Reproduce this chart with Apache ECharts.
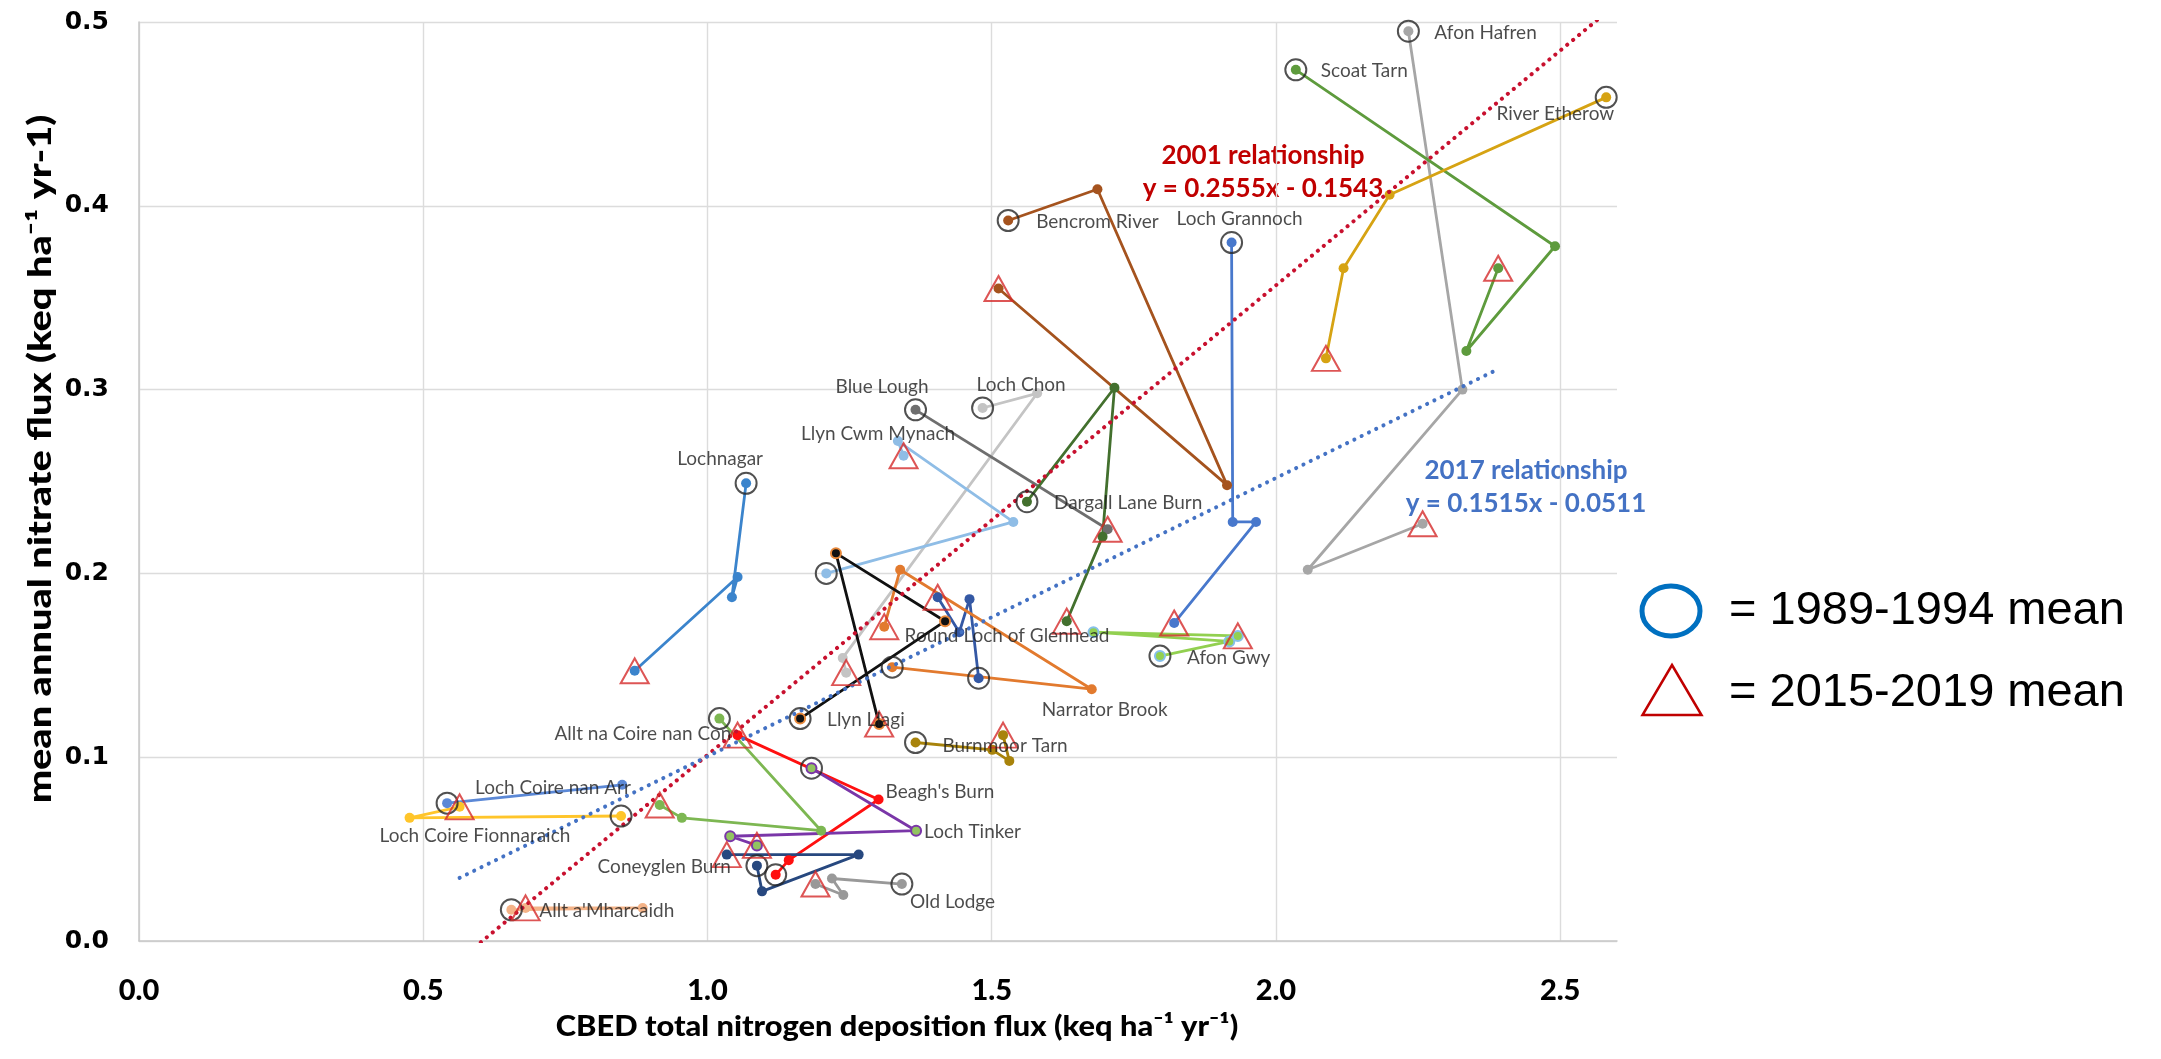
<!DOCTYPE html>
<html>
<head>
<meta charset="utf-8">
<script src="https://cdn.jsdelivr.net/npm/echarts@6/dist/echarts.min.js"></script>
<style>
  html, body { margin: 0; padding: 0; background: #ffffff; }
  #chart { width: 2161px; height: 1059px; }
</style>
</head>
<body>
<div id="chart"></div>
<script>
// Site trajectories: [CBED total N deposition, mean annual nitrate flux] (keq ha-1 yr-1).
// First point = 1989-1994 mean, last point = 2015-2019 mean (where sampled).
const afonHafren          = [[2.233, 0.495], [2.328, 0.300], [2.056, 0.202], [2.258, 0.227]];
const scoatTarn           = [[2.035, 0.474], [2.491, 0.378], [2.335, 0.321], [2.391, 0.366]];
const riverEtherow        = [[2.581, 0.459], [2.200, 0.406], [2.119, 0.366], [2.088, 0.317]];
const lochGrannoch        = [[1.922, 0.380], [1.924, 0.228], [1.965, 0.228], [1.821, 0.173]];
const bencromRiver        = [[1.529, 0.392], [1.686, 0.409], [1.914, 0.248], [1.512, 0.355]];
const lochChon            = [[1.484, 0.290], [1.580, 0.298], [1.238, 0.154], [1.244, 0.146]];
const blueLough           = [[1.366, 0.289], [1.704, 0.224]];
const dargallLaneBurn     = [[1.562, 0.239], [1.716, 0.301], [1.695, 0.220], [1.632, 0.174]];
const llynCwmMynach       = [[1.209, 0.200], [1.538, 0.228], [1.335, 0.272], [1.345, 0.264]];
const lochnagar           = [[1.068, 0.249], [1.043, 0.187], [1.053, 0.198], [0.872, 0.147]];
const roundLochGlenhead   = [[1.477, 0.143], [1.461, 0.186], [1.443, 0.168], [1.405, 0.187]];
const afonGwy             = [[1.796, 0.155], [1.918, 0.163], [1.679, 0.168], [1.933, 0.166]];
const narratorBrook       = [[1.325, 0.149], [1.676, 0.137], [1.339, 0.202], [1.311, 0.171]];
const llynLlagi           = [[1.163, 0.121], [1.418, 0.174], [1.226, 0.211], [1.302, 0.118]];
const burnmoorTarn        = [[1.366, 0.108], [1.501, 0.104], [1.531, 0.098], [1.520, 0.112]];
const alltNaCoireNanCon   = [[1.021, 0.121], [1.200, 0.060], [0.955, 0.067], [0.916, 0.074]];
const beaghsBurn          = [[1.120, 0.036], [1.143, 0.044], [1.301, 0.077], [1.053, 0.112]];
const lochTinker          = [[1.183, 0.094], [1.367, 0.060], [1.040, 0.057], [1.087, 0.052]];
const coneyglenBurn       = [[1.087, 0.041], [1.096, 0.027], [1.266, 0.047], [1.034, 0.047]];
const oldLodge            = [[1.342, 0.031], [1.219, 0.034], [1.239, 0.025], [1.190, 0.031]];
const lochCoireNanArr     = [[0.542, 0.075], [0.850, 0.085]];
const lochCoireFionnaraich= [[0.848, 0.068], [0.476, 0.067], [0.564, 0.073]];
const alltAMharcaidh      = [[0.655, 0.017], [0.886, 0.018], [0.680, 0.018]];

// Regression lines: [slope, intercept]
const rel2001 = [0.2555, -0.1543];
const rel2017 = [0.1515, -0.0511];

// Axis ticks
const xTickStep = 0.5, xMax = 2.6;
const yTickStep = 0.1, yMax = 0.5;

// Site list with drawing style
const sites = [
  { name: 'Afon Hafren',             data: afonHafren,          color: '#A6A6A6', recent: true },
  { name: 'Scoat Tarn',              data: scoatTarn,           color: '#5E9B3D', recent: true },
  { name: 'River Etherow',           data: riverEtherow,        color: '#D6A313', recent: true },
  { name: 'Loch Grannoch',           data: lochGrannoch,        color: '#4878CC', recent: true },
  { name: 'Bencrom River',           data: bencromRiver,        color: '#A5531E', recent: true },
  { name: 'Loch Chon',               data: lochChon,            color: '#C4C4C4', recent: true },
  { name: 'Blue Lough',              data: blueLough,           color: '#6E6E6E', recent: true },
  { name: 'Dargall Lane Burn',       data: dargallLaneBurn,     color: '#43702E', recent: true },
  { name: 'Llyn Cwm Mynach',         data: llynCwmMynach,       color: '#8FBDE6', recent: true },
  { name: 'Lochnagar',               data: lochnagar,           color: '#3B84CC', recent: true },
  { name: 'Round Loch of Glenhead',  data: roundLochGlenhead,   color: '#3458A4', recent: true },
  { name: 'Afon Gwy',                data: afonGwy,             color: '#92D050', border: '#86C0EA', recent: true },
  { name: 'Narrator Brook',          data: narratorBrook,       color: '#E27A2E', recent: true },
  { name: 'Llyn Llagi',              data: llynLlagi,           color: '#111111', border: '#E8883A', recent: true },
  { name: 'Burnmoor Tarn',           data: burnmoorTarn,        color: '#A8830B', recent: true },
  { name: 'Allt na Coire nan Con',   data: alltNaCoireNanCon,   color: '#7DB752', recent: true },
  { name: "Beagh's Burn",            data: beaghsBurn,          color: '#FF1010', recent: true },
  { name: 'Loch Tinker',             data: lochTinker,          color: '#7A36A8', fill: '#92C460', recent: true },
  { name: 'Coneyglen Burn',          data: coneyglenBurn,       color: '#27487F', recent: true },
  { name: 'Old Lodge',               data: oldLodge,            color: '#999999', recent: true },
  { name: 'Loch Coire nan Arr',      data: lochCoireNanArr,     color: '#5B88D6', recent: false },
  { name: 'Loch Coire Fionnaraich',  data: lochCoireFionnaraich,color: '#FFC52A', recent: true },
  { name: "Allt a'Mharcaidh",        data: alltAMharcaidh,      color: '#F4B388', recent: true }
];

// Where each site name sits: point index, pixel offset, text alignment
const labelPlacement = {
  'Afon Hafren':            { at: 0, dx: 26,  dy: 2,   align: 'left' },
  'Scoat Tarn':             { at: 0, dx: 25,  dy: 1,   align: 'left' },
  'River Etherow':          { at: 0, dx: 8,   dy: 17,  align: 'right' },
  'Loch Grannoch':          { at: 0, dx: 8,   dy: -24, align: 'center' },
  'Bencrom River':          { at: 0, dx: 28,  dy: 1,   align: 'left' },
  'Loch Chon':              { at: 0, dx: -6,  dy: -23, align: 'left' },
  'Blue Lough':             { at: 0, dx: 13,  dy: -23, align: 'right' },
  'Dargall Lane Burn':      { at: 0, dx: 27,  dy: 1,   align: 'left' },
  'Llyn Cwm Mynach':        { at: 2, dx: -97, dy: -7,  align: 'left' },
  'Lochnagar':              { at: 0, dx: -26, dy: -24, align: 'center' },
  'Round Loch of Glenhead': { at: 0, dx: -74, dy: -42, align: 'left' },
  'Afon Gwy':               { at: 0, dx: 27,  dy: 2,   align: 'left' },
  'Narrator Brook':         { at: 1, dx: 13,  dy: 21,  align: 'center' },
  'Llyn Llagi':             { at: 0, dx: 27,  dy: 1,   align: 'left' },
  'Burnmoor Tarn':          { at: 0, dx: 27,  dy: 3,   align: 'left' },
  'Allt na Coire nan Con':  { at: 0, dx: 12,  dy: 15,  align: 'right' },
  "Beagh's Burn":           { at: 2, dx: 7,   dy: -8,  align: 'left' },
  'Loch Tinker':            { at: 1, dx: 8,   dy: 1,   align: 'left' },
  'Coneyglen Burn':         { at: 0, dx: -26, dy: 1,   align: 'right' },
  'Old Lodge':              { at: 0, dx: 8,   dy: 18,  align: 'left' },
  'Loch Coire nan Arr':     { at: 0, dx: 28,  dy: -15, align: 'left' },
  'Loch Coire Fionnaraich': { at: 1, dx: -30, dy: 18,  align: 'left' },
  "Allt a'Mharcaidh":       { at: 0, dx: 28,  dy: 1,   align: 'left' }
};

const chart = echarts.init(document.getElementById('chart'), null, { renderer: 'canvas' });

const GRID = { left: 139, top: 22, right: 544, bottom: 118 };
const labelFont = 'Lato, "Open Sans", sans-serif';
const titleFont = 'Lato, "Open Sans", sans-serif';

// one line per site
const siteSeries = sites.map(s => ({
  name: s.name,
  type: 'line',
  data: s.data,
  symbol: 'circle',
  symbolSize: 10,
  z: 3,
  lineStyle: { color: s.color, width: 2.8 },
  itemStyle: {
    color: s.fill || s.color,
    borderColor: s.border || s.color,
    borderWidth: s.border || s.fill ? 2 : 0
  },
  emphasis: { disabled: true },
  silent: true
}));

// ring around each 1989-1994 mean
const startSeries = {
  name: '1989-1994 mean',
  type: 'scatter',
  data: sites.map(s => s.data[0]),
  symbol: 'circle',
  symbolSize: 21,
  z: 5,
  itemStyle: { color: 'rgba(0,0,0,0)', borderColor: '#262626', borderWidth: 2 },
  silent: true
};

// triangle on each 2015-2019 mean
const endSeries = {
  name: '2015-2019 mean',
  type: 'scatter',
  data: sites.filter(s => s.recent).map(s => s.data[s.data.length - 1]),
  symbol: 'triangle',
  symbolSize: [28, 25],
  z: 5,
  itemStyle: { color: 'rgba(0,0,0,0)', borderColor: '#D42A2A', borderWidth: 2 },
  silent: true
};

// site names
const nameSeries = {
  name: 'site names',
  type: 'scatter',
  symbolSize: 1,
  z: 6,
  itemStyle: { color: 'rgba(0,0,0,0)' },
  silent: true,
  data: sites.map(s => {
    const p = labelPlacement[s.name];
    return {
      value: s.data[p.at],
      label: {
        show: true,
        position: 'inside',
        formatter: s.name,
        align: p.align,
        verticalAlign: 'middle',
        offset: [p.dx, p.dy],
        color: '#1E1E1E',
        fontSize: 19,
        fontFamily: labelFont
      }
    };
  })
};

// regression lines over the x-range of the points they were fitted to
const allX = sites.flatMap(s => s.data.map(p => p[0]));
const recentX = sites.filter(s => s.recent).map(s => s.data[s.data.length - 1][0]);
function fitLine(rel, xs) {
  const x0 = Math.min(...xs), x1 = Math.max(...xs);
  return [[x0, rel[0] * x0 + rel[1]], [x1, rel[0] * x1 + rel[1]]];
}
const trend2001 = {
  name: '2001 relationship',
  type: 'line',
  data: fitLine(rel2001, allX),
  symbol: 'none',
  z: 4,
  clip: true,
  lineStyle: { color: '#C8102E', width: 4, type: [0.1, 7.6], cap: 'round' },
  silent: true
};
const trend2017 = {
  name: '2017 relationship',
  type: 'line',
  data: fitLine(rel2017, recentX),
  symbol: 'none',
  z: 4,
  clip: true,
  lineStyle: { color: '#4472C4', width: 4, type: [0.1, 8], cap: 'round' },
  silent: true
};

const option = {
  animation: false,
  backgroundColor: '#ffffff',
  grid: Object.assign({ containLabel: false, outerBoundsMode: 'none' }, GRID),
  xAxis: {
    type: 'value',
    min: 0, max: xMax, interval: xTickStep,
    axisLine: { show: true, lineStyle: { color: '#C8C8C8', width: 1.5 } },
    axisTick: { show: false },
    splitLine: { show: true, showMaxLine: false, lineStyle: { color: '#DCDCDC', width: 1.4 } },
    axisLabel: {
      showMaxLabel: false,
      margin: 35,
      formatter: v => v.toFixed(1),
      color: '#000000',
      fontSize: 29,
      fontWeight: 900,
      fontFamily: titleFont
    }
  },
  yAxis: {
    type: 'value',
    min: 0, max: yMax, interval: yTickStep,
    axisLine: { show: true, lineStyle: { color: '#C8C8C8', width: 1.5 } },
    axisTick: { show: false },
    splitLine: { show: true, lineStyle: { color: '#DCDCDC', width: 1.4 } },
    axisLabel: {
      margin: 30,
      formatter: v => v.toFixed(1),
      color: '#000000',
      fontSize: 25,
      fontWeight: 'bold',
      fontFamily: '"DejaVu Sans", Verdana, sans-serif'
    }
  },
  series: [...siteSeries, trend2001, trend2017, startSeries, endSeries, nameSeries],
  graphic: [
    // axis titles
    {
      type: 'text', x: 897, y: 1027, scaleX: 1.1,
      style: {
        text: 'CBED total nitrogen deposition flux (keq ha\u207B\u00B9 yr\u207B\u00B9)',
        textAlign: 'center', textVerticalAlign: 'middle',
        font: '900 28px ' + titleFont, fill: '#000000'
      }
    },
    {
      type: 'text', x: 41, y: 459, rotation: Math.PI / 2, scaleX: 1.24,
      style: {
        text: 'mean annual nitrate flux (keq ha\u207B\u00B9 yr-1)',
        textAlign: 'center', textVerticalAlign: 'middle',
        font: '900 32px ' + titleFont, fill: '#000000'
      }
    },
    // regression annotations
    {
      type: 'text', x: 1263, y: 139,
      style: {
        text: '2001 relationship\ny = 0.2555x - 0.1543',
        textAlign: 'center', textVerticalAlign: 'top',
        font: 'bold 26px ' + labelFont, fill: '#C00000', lineHeight: 33
      }
    },
    {
      type: 'text', x: 1526, y: 454,
      style: {
        text: '2017 relationship\ny = 0.1515x - 0.0511',
        textAlign: 'center', textVerticalAlign: 'top',
        font: 'bold 26px ' + labelFont, fill: '#4472C4', lineHeight: 33
      }
    },
    // key
    {
      type: 'ellipse',
      shape: { cx: 1671, cy: 611, rx: 29, ry: 25 },
      style: { fill: 'none', stroke: '#0070C0', lineWidth: 5 }
    },
    {
      type: 'polygon',
      shape: { points: [[1672, 665], [1701.5, 715], [1642.5, 715]] },
      style: { fill: 'none', stroke: '#C00000', lineWidth: 2.5 }
    },
    {
      type: 'text', x: 1729, y: 611,
      style: {
        text: '= 1989-1994 mean', textAlign: 'left', textVerticalAlign: 'middle',
        font: '47px "Liberation Sans", Arial, sans-serif', fill: '#000000'
      }
    },
    {
      type: 'text', x: 1729, y: 693,
      style: {
        text: '= 2015-2019 mean', textAlign: 'left', textVerticalAlign: 'middle',
        font: '47px "Liberation Sans", Arial, sans-serif', fill: '#000000'
      }
    }
  ]
};

chart.setOption(option);
</script>
</body>
</html>
